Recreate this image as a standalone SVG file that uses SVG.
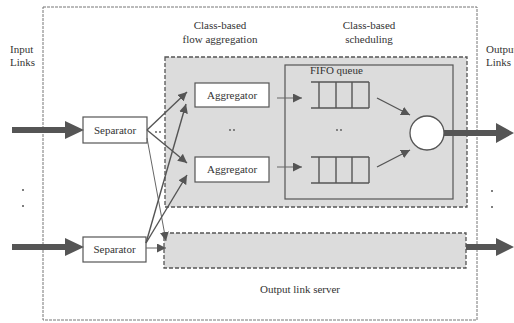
<svg xmlns="http://www.w3.org/2000/svg" width="514" height="323" viewBox="0 0 514 323">
<defs>
<style>
text{font-family:"Liberation Serif","Times New Roman",serif;font-size:11px;fill:#333}
.box{fill:#fff;stroke:#555;stroke-width:1.2}
.region{fill:#dcdcdc;stroke:#555;stroke-width:1.3;stroke-dasharray:4 2}
.line{stroke:#555;stroke-width:1.4;fill:none}
.thin{stroke:#666;stroke-width:1;fill:none}
.big{fill:#555}
.dot{fill:#555}
</style>
<marker id="ah" viewBox="0 0 10 10" refX="10" refY="5" markerWidth="9" markerHeight="9" markerUnits="userSpaceOnUse" orient="auto">
<path d="M0,0 L10,5 L0,10 z" fill="#555"/>
</marker>
</defs>
<rect width="514" height="323" fill="#fff"/>
<g id="router">
<rect x="43" y="7" width="434" height="313" fill="none" stroke="#777" stroke-width="1" stroke-dasharray="3 1"/>
</g>
<g id="aggregation-scheduling-region">
<rect class="region" x="165" y="57" width="302" height="150"/>
</g>
<g id="output-link-server">
<rect class="region" x="164" y="233" width="302" height="35"/>
<text x="300" y="293" text-anchor="middle">Output link server</text>
</g>
<g id="scheduler">
<rect x="285" y="65" width="168" height="134" fill="none" stroke="#555" stroke-width="1.2"/>
<text x="310" y="74">FIFO queue</text>
</g>
<g id="labels">
<text x="10" y="53">Input</text>
<text x="10" y="66">Links</text>
<text x="486" y="53">Output</text>
<text x="486" y="66">Links</text>
<text x="220" y="29" text-anchor="middle">Class-based</text>
<text x="220" y="43" text-anchor="middle">flow aggregation</text>
<text x="369" y="29" text-anchor="middle">Class-based</text>
<text x="369" y="43" text-anchor="middle">scheduling</text>
</g>
<g id="separator1">
<rect class="box" x="83" y="117" width="64" height="26"/>
<text x="115" y="134" text-anchor="middle">Separator</text>
</g>
<g id="separator2">
<rect class="box" x="83" y="237" width="63" height="25"/>
<text x="114.5" y="253" text-anchor="middle">Separator</text>
</g>
<g id="aggregator1">
<rect class="box" x="195" y="83" width="74" height="24"/>
<text x="232" y="99" text-anchor="middle">Aggregator</text>
</g>
<g id="aggregator2">
<rect class="box" x="195" y="157" width="74" height="25"/>
<text x="232" y="173" text-anchor="middle">Aggregator</text>
</g>
<g id="queue1">
<path class="line" d="M311,82 H369 M311,108 H369 M319,82 V108 M336,82 V108 M352,82 V108 M369,82 V108"/>
</g>
<g id="queue2">
<path class="line" d="M311,157 H369 M311,183 H369 M319,157 V183 M336,157 V183 M352,157 V183 M369,157 V183"/>
</g>
<g id="link-scheduler">
<circle cx="427" cy="133" r="17" fill="#fff" stroke="#555" stroke-width="1.3"/>
</g>
<g id="ellipses">
<circle class="dot" cx="156" cy="132" r="0.9"/><circle class="dot" cx="160" cy="132" r="0.9"/>
<circle class="dot" cx="230" cy="130" r="0.9"/><circle class="dot" cx="234" cy="130" r="0.9"/>
<circle class="dot" cx="337" cy="130" r="0.9"/><circle class="dot" cx="341" cy="130" r="0.9"/>
<circle class="dot" cx="23" cy="190" r="1"/><circle class="dot" cx="23" cy="206" r="1"/>
<circle class="dot" cx="492" cy="191" r="1"/><circle class="dot" cx="492" cy="207" r="1"/>
</g>
<g id="connectors">
<path class="big" d="M12,127 H65 V121 L84,130 L65,139 V133 H12 z"/>
<path class="big" d="M12,244 H65 V238 L84,247 L65,256 V250 H12 z"/>
<path class="big" d="M444,130 H496 V123 L514,133 L496,143 V136 H444 z"/>
<path class="big" d="M466,244 H496 V238 L514,247 L496,256 V250 H466 z"/>
<path class="line" d="M147,130 L187,92" marker-end="url(#ah)"/>
<path class="line" d="M147,130 L187,163" marker-end="url(#ah)"/>
<path class="thin" d="M147,138 L166,241" marker-end="url(#ah)"/>
<path class="line" d="M146,243 L186,104" marker-end="url(#ah)"/>
<path class="line" d="M146,243 L187,175" marker-end="url(#ah)"/>
<path class="thin" d="M146,248 L166,248" marker-end="url(#ah)"/>
<path class="thin" d="M277,98 L302,98" marker-end="url(#ah)"/>
<path class="thin" d="M277,167 L302,167" marker-end="url(#ah)"/>
<path class="line" d="M377,98 L410,115" marker-end="url(#ah)"/>
<path class="line" d="M377,167 L410,150" marker-end="url(#ah)"/>
</g>
</svg>
